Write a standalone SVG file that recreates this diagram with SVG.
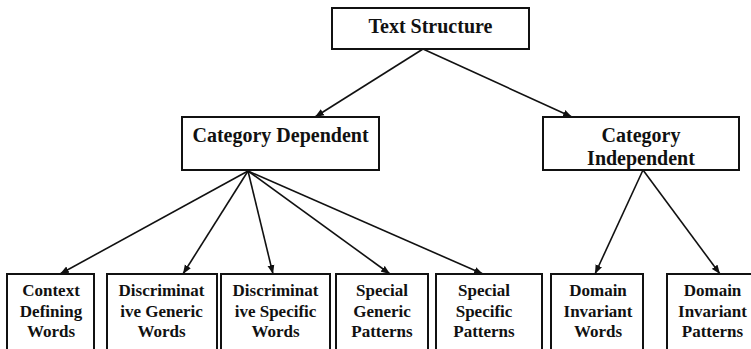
<svg xmlns="http://www.w3.org/2000/svg" width="751" height="349" viewBox="0 0 751 349">
<defs>
<marker id="ah" markerUnits="userSpaceOnUse" markerWidth="10" markerHeight="8" refX="9" refY="4" orient="auto">
<path d="M0,0.5 L9,4 L0,7.5 Z" fill="#111"/>
</marker>
<style>
.box{fill:#fff;stroke:#111;stroke-width:2}
.t{font-family:"Liberation Serif","Times New Roman",serif;font-weight:bold;fill:#111;text-anchor:middle}
.l{font-size:20px}
.s{font-size:17px}
.c{stroke:#111;stroke-width:1.6;fill:none;marker-end:url(#ah)}
</style>
</defs>
<rect width="751" height="349" fill="#fff"/>
<g id="connectors">
<line class="c" x1="423" y1="49" x2="315" y2="117"/>
<line class="c" x1="423" y1="49" x2="572" y2="117"/>
<line class="c" x1="248" y1="171" x2="60" y2="274"/>
<line class="c" x1="248" y1="171" x2="183" y2="274"/>
<line class="c" x1="248" y1="171" x2="273" y2="274"/>
<line class="c" x1="248" y1="171" x2="390" y2="274"/>
<line class="c" x1="248" y1="171" x2="483" y2="274"/>
<line class="c" x1="643" y1="170" x2="595" y2="274"/>
<line class="c" x1="643" y1="170" x2="720" y2="274"/>
</g>
<g id="text-structure">
<rect class="box" x="332" y="8" width="197" height="41"/>
<text class="t l" x="430.5" y="33">Text Structure</text>
</g>
<g id="category-dependent">
<rect class="box" x="182" y="117" width="197" height="53"/>
<text class="t l" x="280.5" y="142">Category Dependent</text>
</g>
<g id="category-independent">
<rect class="box" x="543" y="117" width="196" height="53"/>
<text class="t l" x="641" y="142">Category</text>
<text class="t l" x="641" y="165">Independent</text>
</g>
<g id="context-defining-words">
<rect class="box" x="7" y="274" width="87" height="90"/>
<text class="t s" x="51" y="296">Context</text>
<text class="t s" x="51" y="317">Defining</text>
<text class="t s" x="51" y="337">Words</text>
</g>
<g id="discriminative-generic-words">
<rect class="box" x="107" y="274" width="110" height="90"/>
<text class="t s" x="161.5" y="296">Discriminat</text>
<text class="t s" x="161.5" y="317">ive Generic</text>
<text class="t s" x="161.5" y="337">Words</text>
</g>
<g id="discriminative-specific-words">
<rect class="box" x="221" y="274" width="109" height="90"/>
<text class="t s" x="275.5" y="296">Discriminat</text>
<text class="t s" x="275.5" y="317">ive Specific</text>
<text class="t s" x="275.5" y="337">Words</text>
</g>
<g id="special-generic-patterns">
<rect class="box" x="336" y="274" width="92" height="90"/>
<text class="t s" x="382" y="296">Special</text>
<text class="t s" x="382" y="317">Generic</text>
<text class="t s" x="382" y="337">Patterns</text>
</g>
<g id="special-specific-patterns">
<rect class="box" x="436" y="274" width="106" height="90"/>
<text class="t s" x="484" y="296">Special</text>
<text class="t s" x="484" y="317">Specific</text>
<text class="t s" x="484" y="337">Patterns</text>
</g>
<g id="domain-invariant-words">
<rect class="box" x="551" y="274" width="92" height="90"/>
<text class="t s" x="598" y="296">Domain</text>
<text class="t s" x="598" y="317">Invariant</text>
<text class="t s" x="598" y="337">Words</text>
</g>
<g id="domain-invariant-patterns">
<rect class="box" x="667" y="274" width="92" height="90"/>
<text class="t s" x="712.5" y="296">Domain</text>
<text class="t s" x="712.5" y="317">Invariant</text>
<text class="t s" x="712.5" y="337">Patterns</text>
</g>
</svg>
